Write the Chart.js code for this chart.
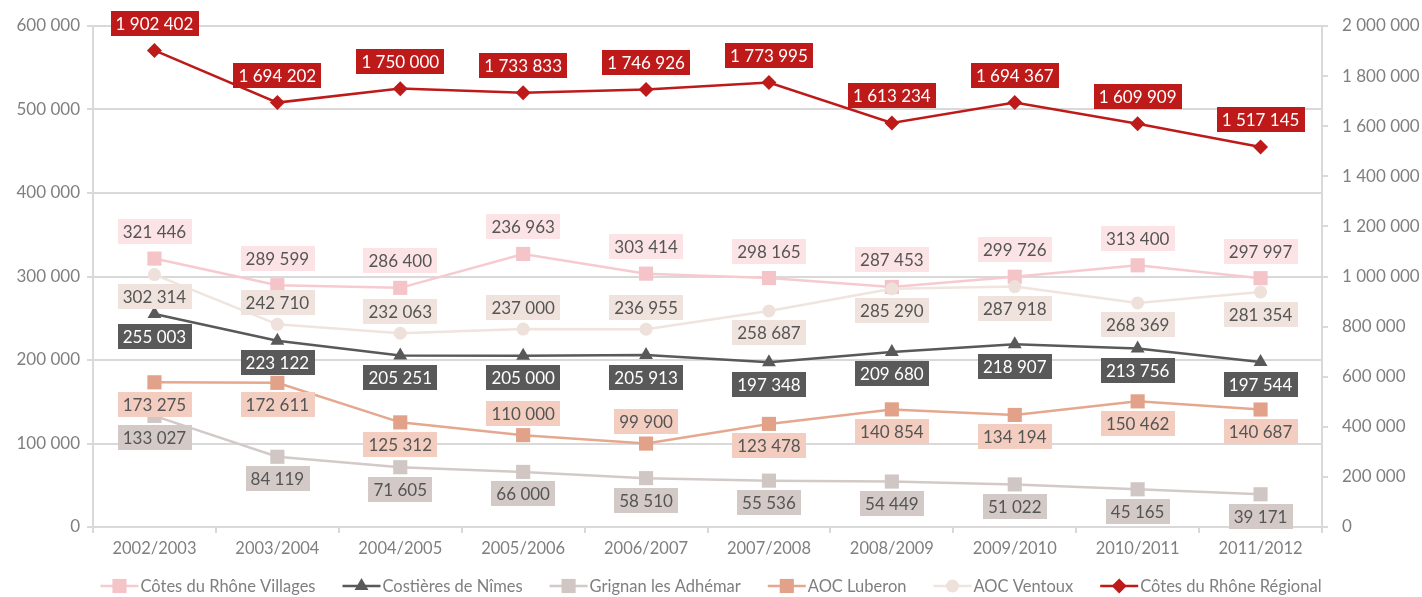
<!DOCTYPE html>
<html>
<head>
<meta charset="utf-8">
<script src="https://cdn.jsdelivr.net/npm/chart.js@4/dist/chart.umd.min.js"></script>
<style>
  html, body { margin: 0; padding: 0; background: #fff; }
  #wrap { width: 1422px; height: 597px; position: relative; }
</style>
</head>
<body>
<div id="wrap"><canvas id="chart"></canvas></div>
<script>
const campagnes = ['2002/2003', '2003/2004', '2004/2005', '2005/2006', '2006/2007',
  '2007/2008', '2008/2009', '2009/2010', '2010/2011', '2011/2012'];

// left axis
const rhoneVillages = [321446, 289599, 286400, 327000, 303414, 298165, 287453, 299726, 313400, 297997];
// printed labels (2005/2006 label differs from the plotted point in the source)
const rhoneVillagesLabels = [321446, 289599, 286400, 236963, 303414, 298165, 287453, 299726, 313400, 297997];
const costieres = [255003, 223122, 205251, 205000, 205913, 197348, 209680, 218907, 213756, 197544];
const grignan = [133027, 84119, 71605, 66000, 58510, 55536, 54449, 51022, 45165, 39171];
const luberon = [173275, 172611, 125312, 110000, 99900, 123478, 140854, 134194, 150462, 140687];
const ventoux = [302314, 242710, 232063, 237000, 236955, 258687, 285290, 287918, 268369, 281354];
// right axis
const rhoneRegional = [1902402, 1694202, 1750000, 1733833, 1746926, 1773995, 1613234, 1694367, 1609909, 1517145];

const leftTicks = [0, 100000, 200000, 300000, 400000, 500000, 600000];
const rightTicks = [0, 200000, 400000, 600000, 800000, 1000000, 1200000, 1400000, 1600000, 1800000, 2000000];

// where each label sits: a = above, b = below
const ventouxPos = ['b', 'a', 'a', 'a', 'a', 'b', 'b', 'b', 'b', 'b'];
const luberonPos = ['b', 'b', 'b', 'a', 'a', 'b', 'b', 'b', 'b', 'b'];

const FONT = 'Lato, "Open Sans", sans-serif';

function fmt(v) {
  return String(v).replace(/\B(?=(\d{3})+(?!\d))/g, ' ');
}

function all(p, n) { return Array(n).fill(p); }

const datasets = [
  {
    label: 'Côtes du Rhône Villages', data: rhoneVillages, yAxisID: 'y',
    borderColor: '#f6cace', backgroundColor: '#f4c4c9', pointStyle: 'rect', pointRadius: 10,
    labelValues: rhoneVillagesLabels, labelPos: all('a', 10), labelOff: 27,
    boxColor: '#fce4e6', textColor: '#555555'
  },
  {
    label: 'Costières de Nîmes', data: costieres, yAxisID: 'y',
    borderColor: '#595959', backgroundColor: '#595959', pointStyle: 'triangle', pointRadius: 8,
    labelValues: costieres, labelPos: all('b', 10), labelOff: 22,
    boxColor: '#595959', textColor: '#ffffff'
  },
  {
    label: 'Grignan les Adhémar', data: grignan, yAxisID: 'y',
    borderColor: '#d3cac8', backgroundColor: '#d0c7c5', pointStyle: 'rect', pointRadius: 10,
    labelValues: grignan, labelPos: all('b', 10), labelOff: 22,
    boxColor: '#d3cac8', textColor: '#555555'
  },
  {
    label: 'AOC Luberon', data: luberon, yAxisID: 'y',
    borderColor: '#e5a88f', backgroundColor: '#e2a289', pointStyle: 'rect', pointRadius: 10,
    labelValues: luberon, labelPos: luberonPos, labelOff: 22,
    boxColor: '#f3cec0', textColor: '#555555'
  },
  {
    label: 'AOC Ventoux', data: ventoux, yAxisID: 'y',
    borderColor: '#f0e4de', backgroundColor: '#eee0da', pointStyle: 'circle', pointRadius: 6.5,
    labelValues: ventoux, labelPos: ventouxPos, labelOff: 22,
    boxColor: '#f0e3dd', textColor: '#555555'
  },
  {
    label: 'Côtes du Rhône Régional', data: rhoneRegional, yAxisID: 'y1',
    borderColor: '#be1a1a', backgroundColor: '#be1a1a', pointStyle: 'rectRot', pointRadius: 7.5,
    labelValues: rhoneRegional, labelPos: all('a', 10), labelOff: 27,
    boxColor: '#be1a1a', textColor: '#ffffff'
  }
];

datasets.forEach((d, i) => {
  d.borderWidth = 2.5;
  d.pointBorderColor = d.backgroundColor;
  d.pointBorderWidth = 0;
  d.pointHoverRadius = d.pointRadius;
  d.tension = 0;
  d.fill = false;
  d.order = 5 - i;
});

// label draw order (later = on top)
const labelOrder = [4, 0, 3, 2, 1, 5];

const boxLabels = {
  id: 'boxLabels',
  afterDatasetsDraw(chart) {
    const ctx = chart.ctx;
    ctx.save();
    ctx.font = '17px ' + FONT;
    ctx.textAlign = 'center';
    ctx.textBaseline = 'middle';
    labelOrder.forEach(i => {
      const ds = chart.data.datasets[i];
      const meta = chart.getDatasetMeta(i);
      meta.data.forEach((pt, j) => {
        const text = fmt(ds.labelValues[j]);
        const w = ctx.measureText(text).width + 10;
        const h = 25;
        const cy = ds.labelPos[j] === 'a' ? pt.y - ds.labelOff : pt.y + ds.labelOff;
        ctx.fillStyle = ds.boxColor;
        ctx.fillRect(Math.round(pt.x - w / 2), Math.round(cy - h / 2), Math.round(w), h);
        ctx.fillStyle = ds.textColor;
        ctx.fillText(text, pt.x, cy + 1);
      });
    });
    ctx.restore();
  }
};

function drawMarker(ctx, style, x, y, r, color) {
  ctx.fillStyle = color;
  ctx.beginPath();
  if (style === 'rect') {
    const s = r * Math.SQRT1_2;
    ctx.rect(x - s, y - s, 2 * s, 2 * s);
  } else if (style === 'triangle') {
    ctx.moveTo(x, y - r);
    ctx.lineTo(x + r * 0.866, y + r * 0.5);
    ctx.lineTo(x - r * 0.866, y + r * 0.5);
    ctx.closePath();
  } else if (style === 'rectRot') {
    ctx.moveTo(x, y - r);
    ctx.lineTo(x + r, y);
    ctx.lineTo(x, y + r);
    ctx.lineTo(x - r, y);
    ctx.closePath();
  } else {
    ctx.arc(x, y, r, 0, Math.PI * 2);
  }
  ctx.fill();
}

const bottomLegend = {
  id: 'bottomLegend',
  afterDraw(chart) {
    const ctx = chart.ctx;
    ctx.save();
    ctx.font = '16.5px ' + FONT;
    ctx.textBaseline = 'middle';
    const sym = 38, gap = 2, spacing = 27;
    const items = chart.data.datasets.map(d => ({ d, tw: ctx.measureText(d.label).width }));
    const total = items.reduce((s, it) => s + sym + gap + it.tw, 0) + spacing * (items.length - 1);
    let x = (chart.width - total) / 2;
    const y = 586;
    items.forEach(it => {
      ctx.strokeStyle = it.d.borderColor;
      ctx.lineWidth = 2.5;
      ctx.beginPath();
      ctx.moveTo(x, y);
      ctx.lineTo(x + sym, y);
      ctx.stroke();
      const r = it.d.pointStyle === 'rect' ? 10 : it.d.pointRadius;
      drawMarker(ctx, it.d.pointStyle, x + sym / 2, y, r, it.d.backgroundColor);
      ctx.fillStyle = '#7f7f7f';
      ctx.fillText(it.d.label, x + sym + gap, y + 1);
      x += sym + gap + it.tw + spacing;
    });
    ctx.restore();
  }
};

new Chart(document.getElementById('chart'), {
  type: 'line',
  data: { labels: campagnes, datasets: datasets },
  options: {
    responsive: true,
    maintainAspectRatio: false,
    animation: false,
    layout: { padding: { top: 26, left: 0, right: 0, bottom: 0 } },
    plugins: {
      legend: { display: false },
      tooltip: { enabled: false }
    },
    scales: {
      x: {
        offset: true,
        grid: { offset: true, drawOnChartArea: false, color: '#d9d9d9', lineWidth: 2, tickLength: 6 },
        border: { color: '#d9d9d9', width: 2 },
        ticks: { color: '#7f7f7f', font: { family: FONT, size: 16.5 }, padding: 6 },
        afterFit(scale) { scale.height = 70; }
      },
      y: {
        position: 'left',
        min: 0, max: 600000,
        afterBuildTicks(scale) { scale.ticks = leftTicks.map(v => ({ value: v })); },
        grid: { color: '#d9d9d9', lineWidth: 2, tickLength: 6 },
        border: { color: '#d9d9d9', width: 2 },
        ticks: { color: '#7f7f7f', font: { family: FONT, size: 17 }, padding: 7, callback: v => fmt(v) },
        afterFit(scale) { scale.width = 93; }
      },
      y1: {
        position: 'right',
        min: 0, max: 2000000,
        afterBuildTicks(scale) { scale.ticks = rightTicks.map(v => ({ value: v })); },
        grid: { drawOnChartArea: false, color: '#d9d9d9', lineWidth: 2, tickLength: 6 },
        border: { color: '#d9d9d9', width: 2 },
        ticks: { color: '#7f7f7f', font: { family: FONT, size: 17 }, padding: 14, callback: v => fmt(v) },
        afterFit(scale) { scale.width = 100; }
      }
    }
  },
  plugins: [boxLabels, bottomLegend]
});
</script>
</body>
</html>
